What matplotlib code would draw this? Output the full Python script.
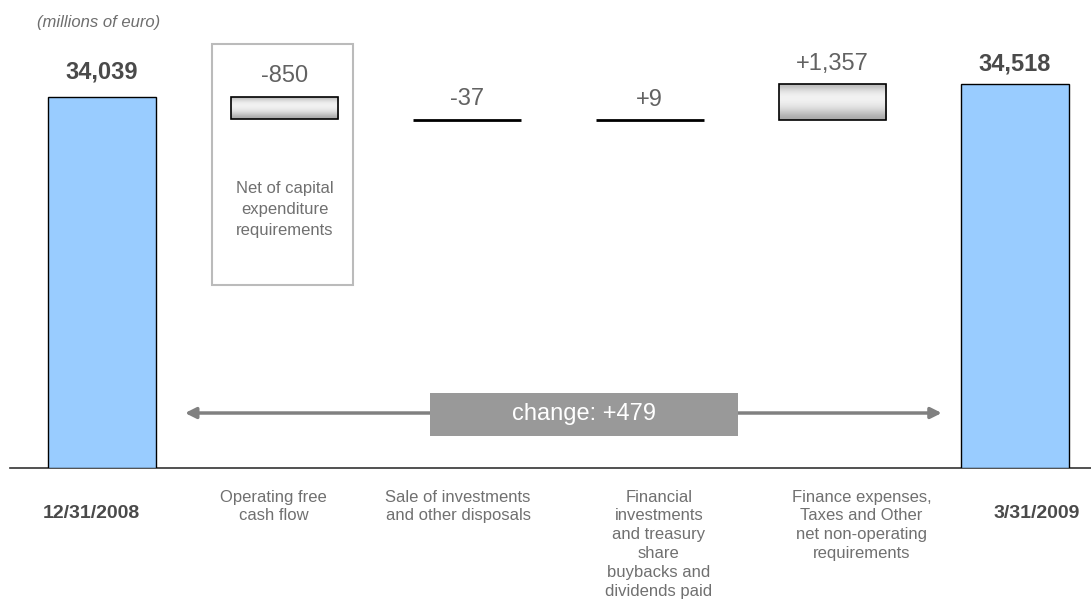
import numpy as np
import matplotlib
matplotlib.use('Agg')
import matplotlib.pyplot as plt
from matplotlib.patches import Rectangle

plt.rcParams.update({'font.family': ['Liberation Sans', 'DejaVu Sans'], 'font.size': 12})

# data (millions of euro)
categories = ['12/31/2008', 'Operating free\ncash flow',
              'Sale of investments\nand other disposals',
              'Financial\ninvestments\nand treasury\nshare\nbuybacks and\ndividends paid',
              'Finance expenses,\nTaxes and Other\nnet non-operating\nrequirements',
              '3/31/2009']
start_value = 34039
end_value = 34518
deltas = [-850, -37, 9, 1357]
value_labels = ['34,039', '-850', '-37', '+9', '+1,357', '34,518']
change_label = 'change: +479'
note_label = 'Net of capital\nexpenditure\nrequirements'

# label x nudges (in category units), the slide was laid out by hand
label_dx = [-0.06, -0.06, -0.05, 0.05, 0.16, 0.12]

BASE = 20108  # truncated axis origin
BLUE = '#99ccff'

fig = plt.figure(figsize=(10.91, 6.07), dpi=100)
ax = fig.add_axes([10 / 1091, 139 / 607, 1081 / 1091, 468 / 607])
x = np.arange(len(categories))
w = 0.59

# totals
totals = [start_value, end_value]
ax.bar([x[0], x[-1]], [v - BASE for v in totals], bottom=BASE, width=w,
       color=BLUE, edgecolor='black', lw=1, zorder=3)

# floating deltas
cum = start_value
tops = [start_value]
grad = np.array([0.72, 0.86, 0.94, 0.95, 0.92, 0.86, 0.76, 0.66]).reshape(-1, 1)
for i, d in enumerate(deltas):
    xi = x[i + 1]
    lo, hi = min(cum, cum + d), max(cum, cum + d)
    if abs(d) < 100:
        ax.plot([xi - w / 2, xi + w / 2], [cum + d, cum + d], color='black', lw=2, zorder=3,
                solid_capstyle='butt')
    else:
        b = ax.bar(xi, hi - lo, bottom=lo, width=w, facecolor='none',
                   edgecolor='black', lw=1.2, zorder=4)[0]
        im = ax.imshow(grad, cmap='gray', vmin=0, vmax=1, aspect='auto',
                       interpolation='bicubic',
                       extent=(xi - w / 2, xi + w / 2, lo, hi), zorder=3)
        im.set_clip_path(b)
    cum += d
    tops.append(hi)
tops.append(end_value)

ax.set_xlim((10 - 102) / 182.6, (1091 - 102) / 182.6)
ax.set_ylim(BASE, BASE + 468 * 37.5)

# value labels
for i, (t, lab) in enumerate(zip(tops, value_labels)):
    bold = i in (0, len(categories) - 1)
    ax.annotate(lab, (x[i], t), xytext=(0, 18 if i == 0 else 14.5),
                textcoords='offset points', ha='center', va='center',
                fontsize=17, fontweight='bold' if bold else 'normal',
                color='#4a4a4a' if bold else '#626262', zorder=5)

# category labels
for i, lab in enumerate(categories):
    bold = i in (0, len(categories) - 1)
    ax.text(x[i] + label_dx[i], -0.046 if not bold else -0.078, lab,
            transform=ax.get_xaxis_transform(), ha='center', va='top',
            fontsize=14 if bold else 12, fontweight='bold' if bold else 'normal',
            color='#4a4a4a' if bold else '#707070', linespacing=1.33)

# box around the operating free cash flow note
ax.add_patch(Rectangle((0.1866, 0.391), 0.1307, 0.5143, transform=ax.transAxes,
                       facecolor='none', edgecolor='#bbbbbb', lw=1.5, zorder=2))
ax.text(0.254, 0.553, note_label, transform=ax.transAxes, ha='center', va='center',
        fontsize=12, color='#707070', linespacing=1.5)

# change arrow
ax.annotate('', xy=(0.1619, 0.1175), xytext=(0.8619, 0.1175), xycoords='axes fraction',
            arrowprops=dict(arrowstyle='<|-|>', color='#808080', lw=2.5,
                            mutation_scale=16, shrinkA=0, shrinkB=0), zorder=2)
ax.add_patch(Rectangle((0.3885, 0.0684), 0.2849, 0.0919, transform=ax.transAxes,
                       facecolor='#999999', edgecolor='none', zorder=4))
ax.text(0.3885 + 0.2849 / 2, 0.0684 + 0.0919 / 2, change_label, transform=ax.transAxes,
        ha='center', va='center', fontsize=17, color='white', zorder=5)

for s in ['top', 'left', 'right']:
    ax.spines[s].set_visible(False)
ax.spines['bottom'].set_color('#333333')
ax.spines['bottom'].set_linewidth(1.2)
ax.set_xticks([])
ax.set_yticks([])

fig.text(37 / 1091, 1 - 22 / 607, '(millions of euro)', ha='left', va='center',
         fontsize=12, style='italic', color='#6e6e6e')

fig.savefig('out.png', dpi=100)
